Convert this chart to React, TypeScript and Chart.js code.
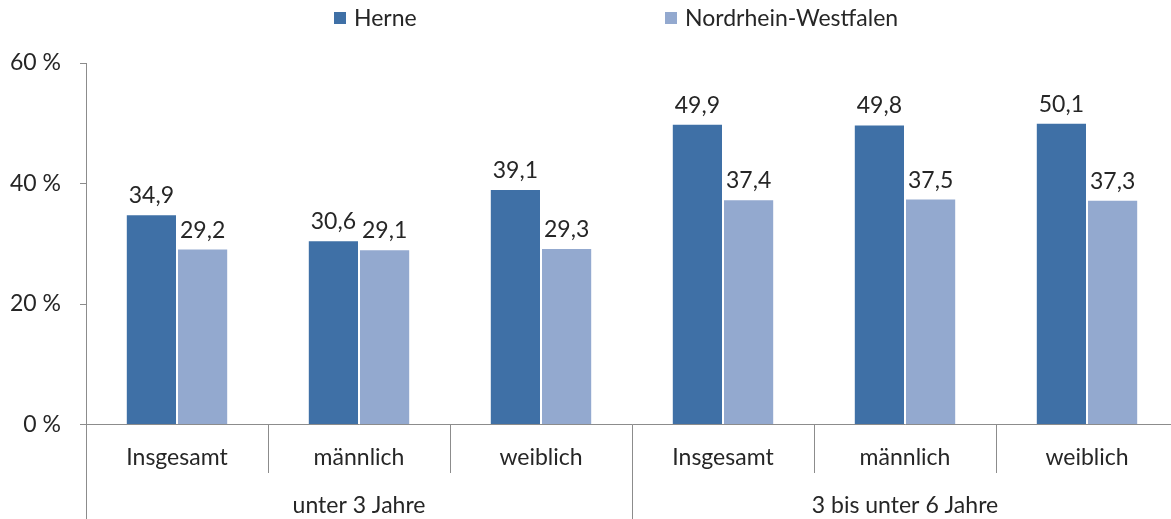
import React, { useEffect, useRef } from "react";
import { Chart, registerables } from "chart.js";

Chart.register(...registerables);

const categories = ["Insgesamt", "männlich", "weiblich", "Insgesamt", "männlich", "weiblich"];
const groups = ["unter 3 Jahre", "3 bis unter 6 Jahre"];
const groupSizes = [3, 3];
const seriesNames = ["Herne", "Nordrhein-Westfalen"];
const herne = [34.9, 30.6, 39.1, 49.9, 49.8, 50.1];
const nrw = [29.2, 29.1, 29.3, 37.4, 37.5, 37.3];
const yMin = 0;
const yMax = 60;
const yStep = 20;

const FONT = "Lato, 'Open Sans', sans-serif";
const FONT_SIZE = 23;
const TEXT = "#262626";
const AXIS = "#8c8c8c";
const COLORS = ["#3F70A6", "#93A9CF"];
const LEGEND_X = [334, 665];

const overlay = {
  id: "overlay",
  afterDatasetsDraw(chart: any) {
    const ctx = chart.ctx;
    ctx.save();
    ctx.font = `${FONT_SIZE}px ${FONT}`;
    ctx.fillStyle = TEXT;
    ctx.textAlign = "center";
    ctx.textBaseline = "alphabetic";
    chart.data.datasets.forEach((ds: any, di: number) => {
      const meta = chart.getDatasetMeta(di);
      meta.data.forEach((bar: any, i: number) => {
        const v = ds.data[i] as number;
        ctx.fillText(v.toFixed(1).replace(".", ","), bar.x, bar.y - 11);
      });
    });
    ctx.restore();
  },
  afterDraw(chart: any) {
    const ctx = chart.ctx;
    const xs = chart.scales.x;
    const area = chart.chartArea;
    const H = chart.height;
    const pix = (i: number) => xs.getPixelForValue(i);
    const half = (pix(1) - pix(0)) / 2;
    ctx.save();
    ctx.strokeStyle = AXIS;
    ctx.lineWidth = 1;
    const groupEnds: number[] = [];
    let acc = 0;
    groupSizes.forEach((s) => {
      acc += s;
      groupEnds.push(acc);
    });
    for (let i = 0; i <= categories.length; i++) {
      const bx = Math.round(pix(i) - half) + 0.5;
      const isGroup = i === 0 || groupEnds.includes(i);
      const bottom = isGroup ? H : area.bottom + 48.5;
      ctx.beginPath();
      ctx.moveTo(bx, area.bottom);
      ctx.lineTo(bx, bottom);
      ctx.stroke();
    }
    ctx.font = `${FONT_SIZE}px ${FONT}`;
    ctx.fillStyle = TEXT;
    ctx.textAlign = "center";
    ctx.textBaseline = "alphabetic";
    let start = 0;
    groups.forEach((g, gi) => {
      const end = start + groupSizes[gi] - 1;
      const cx = (pix(start) - half + pix(end) + half) / 2;
      ctx.fillText(g, cx, H - 6);
      start = end + 1;
    });
    ctx.textAlign = "left";
    seriesNames.forEach((n, i) => {
      ctx.fillStyle = COLORS[i];
      ctx.fillRect(LEGEND_X[i], 12, 12, 12);
      ctx.fillStyle = TEXT;
      ctx.fillText(n, LEGEND_X[i] + 20, 26);
    });
    ctx.restore();
  },
};

export default function App() {
  const ref = useRef<HTMLCanvasElement>(null);
  useEffect(() => {
    if (!ref.current) return;
    const chart = new Chart(ref.current, {
      type: "bar",
      data: {
        labels: categories,
        datasets: [
          {
            label: seriesNames[0],
            data: herne,
            backgroundColor: COLORS[0],
            borderColor: "rgba(255,255,255,0.9)",
            borderWidth: 1,
          },
          {
            label: seriesNames[1],
            data: nrw,
            backgroundColor: COLORS[1],
            borderColor: "rgba(255,255,255,0.9)",
            borderWidth: 1,
          },
        ],
      },
      options: {
        animation: false,
        responsive: false,
        maintainAspectRatio: false,
        datasets: { bar: { categoryPercentage: 0.5626, barPercentage: 1 } },
        layout: { padding: { top: 63, left: 0, right: 2, bottom: 0 } },
        plugins: { legend: { display: false }, tooltip: { enabled: false } },
        scales: {
          x: {
            grid: { display: false, drawTicks: false },
            border: { display: true, color: AXIS, width: 1 },
            ticks: {
              color: TEXT,
              font: { family: FONT, size: FONT_SIZE },
              padding: 19,
              maxRotation: 0,
              autoSkip: false,
            },
            afterFit: (s: any) => {
              s.height = 94.5;
            },
          },
          y: {
            min: yMin,
            max: yMax,
            grid: { drawOnChartArea: false, drawTicks: true, tickLength: 6, color: AXIS },
            border: { display: true, color: AXIS, width: 1 },
            ticks: {
              stepSize: yStep,
              color: TEXT,
              font: { family: FONT, size: FONT_SIZE },
              padding: 19,
              callback: (v: any) => `${v} %`,
            },
            afterFit: (s: any) => {
              s.width = 86;
            },
          },
        },
      },
      plugins: [overlay],
    });
    return () => chart.destroy();
  }, []);
  return (
    <div
      style={{
        position: "absolute",
        left: 0,
        top: 0,
        width: 1171,
        height: 519,
        overflow: "hidden",
        background: "#fff",
      }}
    >
      <canvas ref={ref} width={1180} height={519} style={{ width: 1180, height: 519, display: "block" }} />
    </div>
  );
}
